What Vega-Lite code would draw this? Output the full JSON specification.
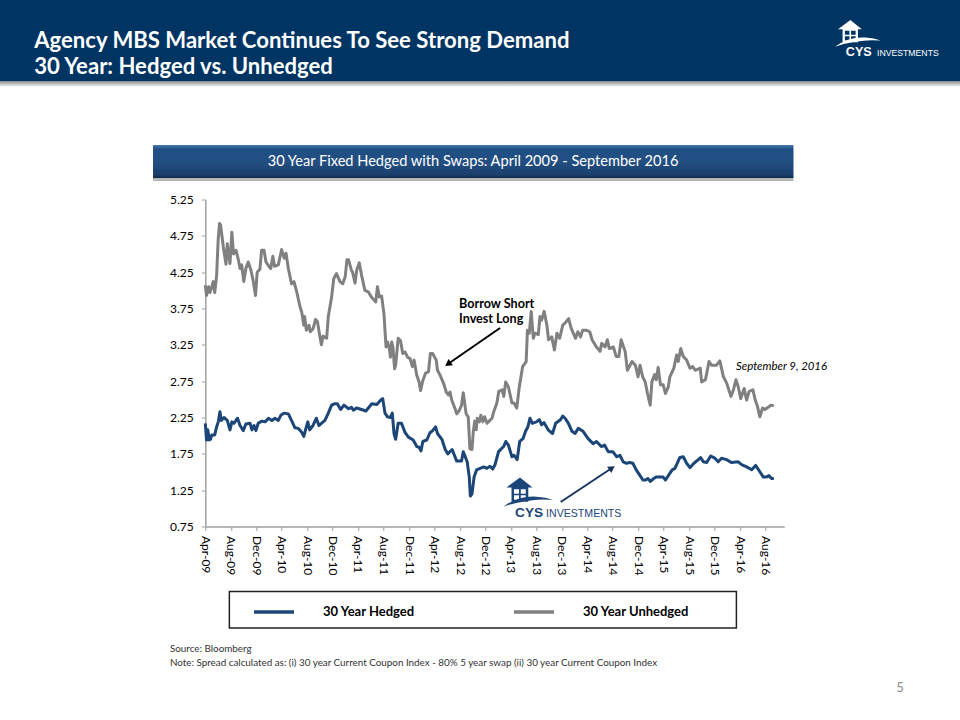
{"$schema":"https://vega.github.io/schema/vega-lite/v6.json","width":579,"height":327,"autosize":"none","padding":{"left":205.3,"top":199.5,"right":175.7,"bottom":193.5},"background":"white","config":{"view":{"stroke":null},"font":"Lato"},"layer":[
{"data":{"name":"spread","values":[
{"d":"2009-04-01","s":"30 Year Unhedged","v":4.07},{"d":"2009-04-07","s":"30 Year Unhedged","v":3.93},{"d":"2009-04-17","s":"30 Year Unhedged","v":4.05},{"d":"2009-04-23","s":"30 Year Unhedged","v":3.97},{"d":"2009-05-02","s":"30 Year Unhedged","v":4.05},{"d":"2009-05-09","s":"30 Year Unhedged","v":4.12},{"d":"2009-05-16","s":"30 Year Unhedged","v":3.97},{"d":"2009-05-25","s":"30 Year Unhedged","v":4.2},{"d":"2009-06-02","s":"30 Year Unhedged","v":4.72},{"d":"2009-06-08","s":"30 Year Unhedged","v":4.92},{"d":"2009-06-13","s":"30 Year Unhedged","v":4.9},{"d":"2009-06-26","s":"30 Year Unhedged","v":4.6},{"d":"2009-07-09","s":"30 Year Unhedged","v":4.36},{"d":"2009-07-15","s":"30 Year Unhedged","v":4.64},{"d":"2009-07-28","s":"30 Year Unhedged","v":4.37},{"d":"2009-08-06","s":"30 Year Unhedged","v":4.8},{"d":"2009-08-14","s":"30 Year Unhedged","v":4.5},{"d":"2009-08-26","s":"30 Year Unhedged","v":4.55},{"d":"2009-09-06","s":"30 Year Unhedged","v":4.42},{"d":"2009-09-14","s":"30 Year Unhedged","v":4.3},{"d":"2009-09-22","s":"30 Year Unhedged","v":4.35},{"d":"2009-10-02","s":"30 Year Unhedged","v":4.12},{"d":"2009-10-12","s":"30 Year Unhedged","v":4.3},{"d":"2009-10-23","s":"30 Year Unhedged","v":4.39},{"d":"2009-11-05","s":"30 Year Unhedged","v":4.28},{"d":"2009-11-16","s":"30 Year Unhedged","v":4.13},{"d":"2009-11-27","s":"30 Year Unhedged","v":3.93},{"d":"2009-12-05","s":"30 Year Unhedged","v":4.25},{"d":"2009-12-18","s":"30 Year Unhedged","v":4.29},{"d":"2009-12-26","s":"30 Year Unhedged","v":4.55},{"d":"2010-01-07","s":"30 Year Unhedged","v":4.55},{"d":"2010-01-16","s":"30 Year Unhedged","v":4.39},{"d":"2010-02-02","s":"30 Year Unhedged","v":4.32},{"d":"2010-02-08","s":"30 Year Unhedged","v":4.3},{"d":"2010-02-18","s":"30 Year Unhedged","v":4.47},{"d":"2010-02-26","s":"30 Year Unhedged","v":4.33},{"d":"2010-03-16","s":"30 Year Unhedged","v":4.35},{"d":"2010-04-01","s":"30 Year Unhedged","v":4.56},{"d":"2010-04-14","s":"30 Year Unhedged","v":4.44},{"d":"2010-04-22","s":"30 Year Unhedged","v":4.51},{"d":"2010-05-03","s":"30 Year Unhedged","v":4.3},{"d":"2010-05-18","s":"30 Year Unhedged","v":4.09},{"d":"2010-05-30","s":"30 Year Unhedged","v":4.12},{"d":"2010-06-12","s":"30 Year Unhedged","v":3.98},{"d":"2010-06-28","s":"30 Year Unhedged","v":3.77},{"d":"2010-07-06","s":"30 Year Unhedged","v":3.7},{"d":"2010-07-16","s":"30 Year Unhedged","v":3.52},{"d":"2010-07-20","s":"30 Year Unhedged","v":3.64},{"d":"2010-07-28","s":"30 Year Unhedged","v":3.45},{"d":"2010-08-10","s":"30 Year Unhedged","v":3.52},{"d":"2010-08-16","s":"30 Year Unhedged","v":3.43},{"d":"2010-08-29","s":"30 Year Unhedged","v":3.47},{"d":"2010-09-10","s":"30 Year Unhedged","v":3.6},{"d":"2010-09-19","s":"30 Year Unhedged","v":3.57},{"d":"2010-10-01","s":"30 Year Unhedged","v":3.36},{"d":"2010-10-08","s":"30 Year Unhedged","v":3.25},{"d":"2010-10-16","s":"30 Year Unhedged","v":3.37},{"d":"2010-11-02","s":"30 Year Unhedged","v":3.34},{"d":"2010-11-10","s":"30 Year Unhedged","v":3.64},{"d":"2010-11-26","s":"30 Year Unhedged","v":3.91},{"d":"2010-12-06","s":"30 Year Unhedged","v":4.16},{"d":"2010-12-19","s":"30 Year Unhedged","v":4.23},{"d":"2011-01-05","s":"30 Year Unhedged","v":4.12},{"d":"2011-01-18","s":"30 Year Unhedged","v":4.09},{"d":"2011-01-30","s":"30 Year Unhedged","v":4.19},{"d":"2011-02-07","s":"30 Year Unhedged","v":4.42},{"d":"2011-02-15","s":"30 Year Unhedged","v":4.42},{"d":"2011-02-28","s":"30 Year Unhedged","v":4.28},{"d":"2011-03-06","s":"30 Year Unhedged","v":4.25},{"d":"2011-03-18","s":"30 Year Unhedged","v":4.1},{"d":"2011-03-26","s":"30 Year Unhedged","v":4.28},{"d":"2011-04-07","s":"30 Year Unhedged","v":4.38},{"d":"2011-04-18","s":"30 Year Unhedged","v":4.21},{"d":"2011-05-04","s":"30 Year Unhedged","v":4.0},{"d":"2011-05-20","s":"30 Year Unhedged","v":3.98},{"d":"2011-06-06","s":"30 Year Unhedged","v":3.9},{"d":"2011-06-25","s":"30 Year Unhedged","v":3.84},{"d":"2011-07-03","s":"30 Year Unhedged","v":4.05},{"d":"2011-07-12","s":"30 Year Unhedged","v":3.91},{"d":"2011-07-23","s":"30 Year Unhedged","v":3.92},{"d":"2011-08-03","s":"30 Year Unhedged","v":3.68},{"d":"2011-08-13","s":"30 Year Unhedged","v":3.22},{"d":"2011-08-20","s":"30 Year Unhedged","v":3.29},{"d":"2011-08-29","s":"30 Year Unhedged","v":3.2},{"d":"2011-09-03","s":"30 Year Unhedged","v":3.08},{"d":"2011-09-09","s":"30 Year Unhedged","v":3.29},{"d":"2011-09-15","s":"30 Year Unhedged","v":3.22},{"d":"2011-09-23","s":"30 Year Unhedged","v":2.92},{"d":"2011-09-28","s":"30 Year Unhedged","v":2.97},{"d":"2011-10-10","s":"30 Year Unhedged","v":3.34},{"d":"2011-10-21","s":"30 Year Unhedged","v":3.31},{"d":"2011-11-01","s":"30 Year Unhedged","v":3.13},{"d":"2011-11-12","s":"30 Year Unhedged","v":3.15},{"d":"2011-11-24","s":"30 Year Unhedged","v":3.08},{"d":"2011-12-06","s":"30 Year Unhedged","v":3.06},{"d":"2011-12-17","s":"30 Year Unhedged","v":2.95},{"d":"2011-12-25","s":"30 Year Unhedged","v":3.04},{"d":"2012-01-07","s":"30 Year Unhedged","v":2.83},{"d":"2012-01-18","s":"30 Year Unhedged","v":2.74},{"d":"2012-01-25","s":"30 Year Unhedged","v":2.62},{"d":"2012-02-05","s":"30 Year Unhedged","v":2.76},{"d":"2012-02-18","s":"30 Year Unhedged","v":2.86},{"d":"2012-03-03","s":"30 Year Unhedged","v":2.88},{"d":"2012-03-12","s":"30 Year Unhedged","v":3.13},{"d":"2012-03-23","s":"30 Year Unhedged","v":3.13},{"d":"2012-04-09","s":"30 Year Unhedged","v":3.04},{"d":"2012-04-15","s":"30 Year Unhedged","v":2.9},{"d":"2012-04-28","s":"30 Year Unhedged","v":2.83},{"d":"2012-05-14","s":"30 Year Unhedged","v":2.72},{"d":"2012-05-27","s":"30 Year Unhedged","v":2.6},{"d":"2012-06-06","s":"30 Year Unhedged","v":2.56},{"d":"2012-06-14","s":"30 Year Unhedged","v":2.6},{"d":"2012-06-22","s":"30 Year Unhedged","v":2.49},{"d":"2012-07-08","s":"30 Year Unhedged","v":2.37},{"d":"2012-07-16","s":"30 Year Unhedged","v":2.3},{"d":"2012-07-29","s":"30 Year Unhedged","v":2.35},{"d":"2012-08-08","s":"30 Year Unhedged","v":2.42},{"d":"2012-08-16","s":"30 Year Unhedged","v":2.59},{"d":"2012-08-30","s":"30 Year Unhedged","v":2.3},{"d":"2012-09-09","s":"30 Year Unhedged","v":2.26},{"d":"2012-09-17","s":"30 Year Unhedged","v":1.82},{"d":"2012-09-27","s":"30 Year Unhedged","v":1.81},{"d":"2012-10-03","s":"30 Year Unhedged","v":2.05},{"d":"2012-10-10","s":"30 Year Unhedged","v":2.2},{"d":"2012-10-17","s":"30 Year Unhedged","v":2.08},{"d":"2012-10-22","s":"30 Year Unhedged","v":2.24},{"d":"2012-11-01","s":"30 Year Unhedged","v":2.19},{"d":"2012-11-08","s":"30 Year Unhedged","v":2.28},{"d":"2012-11-18","s":"30 Year Unhedged","v":2.19},{"d":"2012-11-26","s":"30 Year Unhedged","v":2.26},{"d":"2012-12-08","s":"30 Year Unhedged","v":2.17},{"d":"2012-12-21","s":"30 Year Unhedged","v":2.21},{"d":"2013-01-01","s":"30 Year Unhedged","v":2.24},{"d":"2013-01-09","s":"30 Year Unhedged","v":2.33},{"d":"2013-01-24","s":"30 Year Unhedged","v":2.45},{"d":"2013-02-02","s":"30 Year Unhedged","v":2.61},{"d":"2013-02-18","s":"30 Year Unhedged","v":2.63},{"d":"2013-02-26","s":"30 Year Unhedged","v":2.54},{"d":"2013-03-07","s":"30 Year Unhedged","v":2.74},{"d":"2013-03-20","s":"30 Year Unhedged","v":2.67},{"d":"2013-04-06","s":"30 Year Unhedged","v":2.45},{"d":"2013-04-16","s":"30 Year Unhedged","v":2.45},{"d":"2013-04-29","s":"30 Year Unhedged","v":2.38},{"d":"2013-05-11","s":"30 Year Unhedged","v":2.67},{"d":"2013-05-27","s":"30 Year Unhedged","v":2.95},{"d":"2013-06-13","s":"30 Year Unhedged","v":3.02},{"d":"2013-06-19","s":"30 Year Unhedged","v":3.45},{"d":"2013-06-28","s":"30 Year Unhedged","v":3.41},{"d":"2013-07-07","s":"30 Year Unhedged","v":3.71},{"d":"2013-07-17","s":"30 Year Unhedged","v":3.34},{"d":"2013-07-25","s":"30 Year Unhedged","v":3.41},{"d":"2013-08-10","s":"30 Year Unhedged","v":3.39},{"d":"2013-08-18","s":"30 Year Unhedged","v":3.64},{"d":"2013-08-26","s":"30 Year Unhedged","v":3.59},{"d":"2013-09-07","s":"30 Year Unhedged","v":3.71},{"d":"2013-09-20","s":"30 Year Unhedged","v":3.52},{"d":"2013-09-28","s":"30 Year Unhedged","v":3.32},{"d":"2013-10-13","s":"30 Year Unhedged","v":3.36},{"d":"2013-10-26","s":"30 Year Unhedged","v":3.18},{"d":"2013-11-07","s":"30 Year Unhedged","v":3.41},{"d":"2013-11-20","s":"30 Year Unhedged","v":3.34},{"d":"2013-12-05","s":"30 Year Unhedged","v":3.52},{"d":"2013-12-16","s":"30 Year Unhedged","v":3.55},{"d":"2014-01-02","s":"30 Year Unhedged","v":3.61},{"d":"2014-01-14","s":"30 Year Unhedged","v":3.48},{"d":"2014-02-04","s":"30 Year Unhedged","v":3.34},{"d":"2014-02-15","s":"30 Year Unhedged","v":3.43},{"d":"2014-02-28","s":"30 Year Unhedged","v":3.36},{"d":"2014-03-10","s":"30 Year Unhedged","v":3.45},{"d":"2014-03-29","s":"30 Year Unhedged","v":3.45},{"d":"2014-04-13","s":"30 Year Unhedged","v":3.43},{"d":"2014-04-24","s":"30 Year Unhedged","v":3.32},{"d":"2014-05-15","s":"30 Year Unhedged","v":3.22},{"d":"2014-06-01","s":"30 Year Unhedged","v":3.16},{"d":"2014-06-09","s":"30 Year Unhedged","v":3.27},{"d":"2014-06-25","s":"30 Year Unhedged","v":3.22},{"d":"2014-07-06","s":"30 Year Unhedged","v":3.32},{"d":"2014-07-15","s":"30 Year Unhedged","v":3.2},{"d":"2014-08-04","s":"30 Year Unhedged","v":3.22},{"d":"2014-08-17","s":"30 Year Unhedged","v":3.09},{"d":"2014-08-30","s":"30 Year Unhedged","v":3.09},{"d":"2014-09-10","s":"30 Year Unhedged","v":3.32},{"d":"2014-09-29","s":"30 Year Unhedged","v":3.16},{"d":"2014-10-10","s":"30 Year Unhedged","v":2.9},{"d":"2014-11-01","s":"30 Year Unhedged","v":3.02},{"d":"2014-11-17","s":"30 Year Unhedged","v":2.97},{"d":"2014-11-30","s":"30 Year Unhedged","v":2.81},{"d":"2014-12-09","s":"30 Year Unhedged","v":2.97},{"d":"2014-12-22","s":"30 Year Unhedged","v":2.81},{"d":"2015-01-03","s":"30 Year Unhedged","v":2.74},{"d":"2015-01-14","s":"30 Year Unhedged","v":2.58},{"d":"2015-01-27","s":"30 Year Unhedged","v":2.42},{"d":"2015-02-04","s":"30 Year Unhedged","v":2.74},{"d":"2015-02-17","s":"30 Year Unhedged","v":2.84},{"d":"2015-02-25","s":"30 Year Unhedged","v":2.77},{"d":"2015-03-06","s":"30 Year Unhedged","v":2.94},{"d":"2015-03-17","s":"30 Year Unhedged","v":2.7},{"d":"2015-03-30","s":"30 Year Unhedged","v":2.7},{"d":"2015-04-10","s":"30 Year Unhedged","v":2.58},{"d":"2015-04-23","s":"30 Year Unhedged","v":2.67},{"d":"2015-05-01","s":"30 Year Unhedged","v":2.81},{"d":"2015-05-20","s":"30 Year Unhedged","v":2.93},{"d":"2015-06-02","s":"30 Year Unhedged","v":3.11},{"d":"2015-06-10","s":"30 Year Unhedged","v":3.02},{"d":"2015-06-22","s":"30 Year Unhedged","v":3.2},{"d":"2015-07-04","s":"30 Year Unhedged","v":3.09},{"d":"2015-07-20","s":"30 Year Unhedged","v":3.04},{"d":"2015-08-05","s":"30 Year Unhedged","v":2.93},{"d":"2015-08-18","s":"30 Year Unhedged","v":2.95},{"d":"2015-08-30","s":"30 Year Unhedged","v":2.9},{"d":"2015-09-23","s":"30 Year Unhedged","v":2.93},{"d":"2015-09-30","s":"30 Year Unhedged","v":2.74},{"d":"2015-10-18","s":"30 Year Unhedged","v":2.77},{"d":"2015-11-04","s":"30 Year Unhedged","v":3.02},{"d":"2015-11-16","s":"30 Year Unhedged","v":2.97},{"d":"2015-12-10","s":"30 Year Unhedged","v":2.97},{"d":"2015-12-26","s":"30 Year Unhedged","v":3.03},{"d":"2016-01-12","s":"30 Year Unhedged","v":2.81},{"d":"2016-01-28","s":"30 Year Unhedged","v":2.72},{"d":"2016-02-17","s":"30 Year Unhedged","v":2.54},{"d":"2016-02-29","s":"30 Year Unhedged","v":2.63},{"d":"2016-03-12","s":"30 Year Unhedged","v":2.77},{"d":"2016-03-23","s":"30 Year Unhedged","v":2.67},{"d":"2016-04-04","s":"30 Year Unhedged","v":2.51},{"d":"2016-04-20","s":"30 Year Unhedged","v":2.65},{"d":"2016-05-02","s":"30 Year Unhedged","v":2.49},{"d":"2016-05-14","s":"30 Year Unhedged","v":2.61},{"d":"2016-06-01","s":"30 Year Unhedged","v":2.63},{"d":"2016-06-12","s":"30 Year Unhedged","v":2.49},{"d":"2016-06-23","s":"30 Year Unhedged","v":2.4},{"d":"2016-07-04","s":"30 Year Unhedged","v":2.26},{"d":"2016-07-17","s":"30 Year Unhedged","v":2.38},{"d":"2016-07-28","s":"30 Year Unhedged","v":2.36},{"d":"2016-08-13","s":"30 Year Unhedged","v":2.39},{"d":"2016-08-26","s":"30 Year Unhedged","v":2.42},{"d":"2016-09-09","s":"30 Year Unhedged","v":2.41},
{"d":"2009-04-01","s":"30 Year Hedged","v":2.17},{"d":"2009-04-07","s":"30 Year Hedged","v":1.94},{"d":"2009-04-13","s":"30 Year Hedged","v":2.08},{"d":"2009-04-20","s":"30 Year Hedged","v":1.94},{"d":"2009-04-26","s":"30 Year Hedged","v":1.95},{"d":"2009-05-02","s":"30 Year Hedged","v":2.01},{"d":"2009-05-16","s":"30 Year Hedged","v":2.01},{"d":"2009-05-25","s":"30 Year Hedged","v":2.12},{"d":"2009-06-02","s":"30 Year Hedged","v":2.19},{"d":"2009-06-10","s":"30 Year Hedged","v":2.33},{"d":"2009-06-16","s":"30 Year Hedged","v":2.21},{"d":"2009-06-29","s":"30 Year Hedged","v":2.25},{"d":"2009-07-15","s":"30 Year Hedged","v":2.21},{"d":"2009-07-28","s":"30 Year Hedged","v":2.08},{"d":"2009-08-06","s":"30 Year Hedged","v":2.19},{"d":"2009-08-16","s":"30 Year Hedged","v":2.17},{"d":"2009-09-02","s":"30 Year Hedged","v":2.24},{"d":"2009-09-14","s":"30 Year Hedged","v":2.14},{"d":"2009-09-30","s":"30 Year Hedged","v":2.07},{"d":"2009-10-12","s":"30 Year Hedged","v":2.16},{"d":"2009-11-01","s":"30 Year Hedged","v":2.17},{"d":"2009-11-10","s":"30 Year Hedged","v":2.08},{"d":"2009-11-20","s":"30 Year Hedged","v":2.14},{"d":"2009-11-29","s":"30 Year Hedged","v":2.07},{"d":"2009-12-10","s":"30 Year Hedged","v":2.17},{"d":"2009-12-26","s":"30 Year Hedged","v":2.2},{"d":"2010-01-12","s":"30 Year Hedged","v":2.19},{"d":"2010-01-28","s":"30 Year Hedged","v":2.24},{"d":"2010-02-13","s":"30 Year Hedged","v":2.21},{"d":"2010-02-28","s":"30 Year Hedged","v":2.24},{"d":"2010-03-16","s":"30 Year Hedged","v":2.21},{"d":"2010-03-28","s":"30 Year Hedged","v":2.28},{"d":"2010-04-12","s":"30 Year Hedged","v":2.31},{"d":"2010-05-03","s":"30 Year Hedged","v":2.3},{"d":"2010-05-18","s":"30 Year Hedged","v":2.21},{"d":"2010-06-03","s":"30 Year Hedged","v":2.11},{"d":"2010-06-20","s":"30 Year Hedged","v":2.1},{"d":"2010-07-05","s":"30 Year Hedged","v":2.05},{"d":"2010-07-16","s":"30 Year Hedged","v":1.99},{"d":"2010-07-28","s":"30 Year Hedged","v":2.12},{"d":"2010-08-04","s":"30 Year Hedged","v":2.19},{"d":"2010-08-13","s":"30 Year Hedged","v":2.08},{"d":"2010-08-29","s":"30 Year Hedged","v":2.14},{"d":"2010-09-14","s":"30 Year Hedged","v":2.24},{"d":"2010-09-26","s":"30 Year Hedged","v":2.14},{"d":"2010-10-08","s":"30 Year Hedged","v":2.17},{"d":"2010-10-25","s":"30 Year Hedged","v":2.21},{"d":"2010-11-10","s":"30 Year Hedged","v":2.31},{"d":"2010-11-26","s":"30 Year Hedged","v":2.42},{"d":"2010-12-12","s":"30 Year Hedged","v":2.44},{"d":"2010-12-23","s":"30 Year Hedged","v":2.44},{"d":"2011-01-08","s":"30 Year Hedged","v":2.36},{"d":"2011-01-24","s":"30 Year Hedged","v":2.42},{"d":"2011-02-15","s":"30 Year Hedged","v":2.37},{"d":"2011-03-01","s":"30 Year Hedged","v":2.39},{"d":"2011-03-10","s":"30 Year Hedged","v":2.35},{"d":"2011-03-25","s":"30 Year Hedged","v":2.38},{"d":"2011-04-18","s":"30 Year Hedged","v":2.36},{"d":"2011-05-09","s":"30 Year Hedged","v":2.34},{"d":"2011-06-06","s":"30 Year Hedged","v":2.44},{"d":"2011-06-30","s":"30 Year Hedged","v":2.43},{"d":"2011-07-19","s":"30 Year Hedged","v":2.49},{"d":"2011-07-28","s":"30 Year Hedged","v":2.51},{"d":"2011-08-08","s":"30 Year Hedged","v":2.31},{"d":"2011-08-20","s":"30 Year Hedged","v":2.26},{"d":"2011-09-03","s":"30 Year Hedged","v":2.25},{"d":"2011-09-12","s":"30 Year Hedged","v":2.31},{"d":"2011-09-20","s":"30 Year Hedged","v":2.03},{"d":"2011-09-28","s":"30 Year Hedged","v":1.95},{"d":"2011-10-10","s":"30 Year Hedged","v":2.17},{"d":"2011-10-26","s":"30 Year Hedged","v":2.17},{"d":"2011-11-11","s":"30 Year Hedged","v":2.05},{"d":"2011-11-28","s":"30 Year Hedged","v":1.98},{"d":"2011-12-21","s":"30 Year Hedged","v":1.94},{"d":"2012-01-07","s":"30 Year Hedged","v":1.85},{"d":"2012-01-18","s":"30 Year Hedged","v":1.84},{"d":"2012-01-27","s":"30 Year Hedged","v":1.79},{"d":"2012-02-05","s":"30 Year Hedged","v":1.92},{"d":"2012-02-24","s":"30 Year Hedged","v":1.94},{"d":"2012-03-10","s":"30 Year Hedged","v":2.04},{"d":"2012-03-23","s":"30 Year Hedged","v":2.07},{"d":"2012-04-06","s":"30 Year Hedged","v":2.12},{"d":"2012-04-15","s":"30 Year Hedged","v":2.03},{"d":"2012-05-06","s":"30 Year Hedged","v":1.95},{"d":"2012-05-22","s":"30 Year Hedged","v":1.81},{"d":"2012-06-03","s":"30 Year Hedged","v":1.75},{"d":"2012-06-24","s":"30 Year Hedged","v":1.81},{"d":"2012-07-16","s":"30 Year Hedged","v":1.65},{"d":"2012-08-08","s":"30 Year Hedged","v":1.65},{"d":"2012-08-16","s":"30 Year Hedged","v":1.78},{"d":"2012-09-04","s":"30 Year Hedged","v":1.64},{"d":"2012-09-14","s":"30 Year Hedged","v":1.43},{"d":"2012-09-19","s":"30 Year Hedged","v":1.17},{"d":"2012-09-27","s":"30 Year Hedged","v":1.2},{"d":"2012-10-07","s":"30 Year Hedged","v":1.43},{"d":"2012-10-19","s":"30 Year Hedged","v":1.53},{"d":"2012-11-05","s":"30 Year Hedged","v":1.55},{"d":"2012-11-22","s":"30 Year Hedged","v":1.57},{"d":"2012-12-07","s":"30 Year Hedged","v":1.55},{"d":"2012-12-22","s":"30 Year Hedged","v":1.58},{"d":"2013-01-04","s":"30 Year Hedged","v":1.54},{"d":"2013-01-15","s":"30 Year Hedged","v":1.6},{"d":"2013-02-01","s":"30 Year Hedged","v":1.78},{"d":"2013-02-25","s":"30 Year Hedged","v":1.85},{"d":"2013-03-08","s":"30 Year Hedged","v":1.92},{"d":"2013-03-20","s":"30 Year Hedged","v":1.87},{"d":"2013-04-06","s":"30 Year Hedged","v":1.71},{"d":"2013-04-16","s":"30 Year Hedged","v":1.73},{"d":"2013-05-01","s":"30 Year Hedged","v":1.67},{"d":"2013-05-13","s":"30 Year Hedged","v":1.92},{"d":"2013-05-29","s":"30 Year Hedged","v":1.96},{"d":"2013-06-10","s":"30 Year Hedged","v":2.06},{"d":"2013-06-21","s":"30 Year Hedged","v":2.12},{"d":"2013-07-01","s":"30 Year Hedged","v":2.24},{"d":"2013-07-12","s":"30 Year Hedged","v":2.17},{"d":"2013-08-01","s":"30 Year Hedged","v":2.19},{"d":"2013-08-15","s":"30 Year Hedged","v":2.22},{"d":"2013-08-26","s":"30 Year Hedged","v":2.15},{"d":"2013-09-06","s":"30 Year Hedged","v":2.18},{"d":"2013-09-26","s":"30 Year Hedged","v":2.08},{"d":"2013-10-17","s":"30 Year Hedged","v":2.03},{"d":"2013-11-01","s":"30 Year Hedged","v":2.17},{"d":"2013-11-24","s":"30 Year Hedged","v":2.22},{"d":"2013-12-05","s":"30 Year Hedged","v":2.27},{"d":"2013-12-16","s":"30 Year Hedged","v":2.24},{"d":"2014-01-01","s":"30 Year Hedged","v":2.17},{"d":"2014-01-18","s":"30 Year Hedged","v":2.06},{"d":"2014-02-02","s":"30 Year Hedged","v":2.03},{"d":"2014-02-17","s":"30 Year Hedged","v":2.1},{"d":"2014-03-12","s":"30 Year Hedged","v":2.06},{"d":"2014-04-05","s":"30 Year Hedged","v":1.96},{"d":"2014-04-29","s":"30 Year Hedged","v":1.89},{"d":"2014-05-15","s":"30 Year Hedged","v":1.92},{"d":"2014-06-07","s":"30 Year Hedged","v":1.85},{"d":"2014-06-23","s":"30 Year Hedged","v":1.87},{"d":"2014-07-10","s":"30 Year Hedged","v":1.78},{"d":"2014-08-01","s":"30 Year Hedged","v":1.78},{"d":"2014-08-20","s":"30 Year Hedged","v":1.71},{"d":"2014-09-04","s":"30 Year Hedged","v":1.73},{"d":"2014-09-20","s":"30 Year Hedged","v":1.64},{"d":"2014-10-05","s":"30 Year Hedged","v":1.62},{"d":"2014-10-21","s":"30 Year Hedged","v":1.63},{"d":"2014-11-05","s":"30 Year Hedged","v":1.62},{"d":"2014-11-21","s":"30 Year Hedged","v":1.53},{"d":"2014-12-07","s":"30 Year Hedged","v":1.46},{"d":"2014-12-23","s":"30 Year Hedged","v":1.39},{"d":"2015-01-05","s":"30 Year Hedged","v":1.39},{"d":"2015-01-16","s":"30 Year Hedged","v":1.41},{"d":"2015-01-28","s":"30 Year Hedged","v":1.37},{"d":"2015-02-12","s":"30 Year Hedged","v":1.41},{"d":"2015-02-24","s":"30 Year Hedged","v":1.43},{"d":"2015-03-12","s":"30 Year Hedged","v":1.43},{"d":"2015-03-30","s":"30 Year Hedged","v":1.43},{"d":"2015-04-10","s":"30 Year Hedged","v":1.39},{"d":"2015-04-26","s":"30 Year Hedged","v":1.46},{"d":"2015-05-12","s":"30 Year Hedged","v":1.53},{"d":"2015-05-25","s":"30 Year Hedged","v":1.55},{"d":"2015-06-05","s":"30 Year Hedged","v":1.62},{"d":"2015-06-18","s":"30 Year Hedged","v":1.7},{"d":"2015-07-04","s":"30 Year Hedged","v":1.71},{"d":"2015-07-20","s":"30 Year Hedged","v":1.62},{"d":"2015-08-05","s":"30 Year Hedged","v":1.56},{"d":"2015-08-24","s":"30 Year Hedged","v":1.62},{"d":"2015-09-14","s":"30 Year Hedged","v":1.67},{"d":"2015-09-25","s":"30 Year Hedged","v":1.7},{"d":"2015-10-08","s":"30 Year Hedged","v":1.64},{"d":"2015-10-24","s":"30 Year Hedged","v":1.63},{"d":"2015-11-12","s":"30 Year Hedged","v":1.72},{"d":"2015-12-02","s":"30 Year Hedged","v":1.69},{"d":"2015-12-18","s":"30 Year Hedged","v":1.64},{"d":"2016-01-03","s":"30 Year Hedged","v":1.69},{"d":"2016-01-27","s":"30 Year Hedged","v":1.67},{"d":"2016-02-19","s":"30 Year Hedged","v":1.63},{"d":"2016-03-23","s":"30 Year Hedged","v":1.64},{"d":"2016-04-08","s":"30 Year Hedged","v":1.6},{"d":"2016-05-02","s":"30 Year Hedged","v":1.57},{"d":"2016-05-26","s":"30 Year Hedged","v":1.53},{"d":"2016-06-14","s":"30 Year Hedged","v":1.59},{"d":"2016-07-05","s":"30 Year Hedged","v":1.5},{"d":"2016-07-21","s":"30 Year Hedged","v":1.43},{"d":"2016-08-05","s":"30 Year Hedged","v":1.43},{"d":"2016-08-16","s":"30 Year Hedged","v":1.45},{"d":"2016-08-29","s":"30 Year Hedged","v":1.41},{"d":"2016-09-09","s":"30 Year Hedged","v":1.41}
]},"mark":{"type":"line","strokeWidth":3,"strokeJoin":"round"},"encoding":{"x":{"field":"d","type":"temporal","scale":{"domain":[{"year":2009,"month":4,"date":1},{"year":2016,"month":10,"date":29}]},"axis":{"title":null,"format":"%b-%y","labelAngle":90,"labelFontSize":12,"labelColor":"black","labelPadding":5,"labelOverlap":false,"labelFlush":false,"grid":false,"domainColor":"#a0a0a0","domainWidth":1.5,"tickColor":"#a0a0a0","tickSize":4,"tickWidth":1,"tickCount":30,"values":[{"year":2009,"month":4,"date":1},{"year":2009,"month":8,"date":1},{"year":2009,"month":12,"date":1},{"year":2010,"month":4,"date":1},{"year":2010,"month":8,"date":1},{"year":2010,"month":12,"date":1},{"year":2011,"month":4,"date":1},{"year":2011,"month":8,"date":1},{"year":2011,"month":12,"date":1},{"year":2012,"month":4,"date":1},{"year":2012,"month":8,"date":1},{"year":2012,"month":12,"date":1},{"year":2013,"month":4,"date":1},{"year":2013,"month":8,"date":1},{"year":2013,"month":12,"date":1},{"year":2014,"month":4,"date":1},{"year":2014,"month":8,"date":1},{"year":2014,"month":12,"date":1},{"year":2015,"month":4,"date":1},{"year":2015,"month":8,"date":1},{"year":2015,"month":12,"date":1},{"year":2016,"month":4,"date":1},{"year":2016,"month":8,"date":1}]}},"y":{"field":"v","type":"quantitative","scale":{"domain":[0.75,5.25],"nice":false},"axis":{"title":null,"tickCount":30,"values":[0.75,1.25,1.75,2.25,2.75,3.25,3.75,4.25,4.75,5.25],"format":".2f","labelFontSize":12,"labelColor":"black","labelPadding":8,"labelOverlap":false,"grid":false,"domainColor":"#a0a0a0","domainWidth":1.5,"tickColor":"#a0a0a0","tickSize":4,"tickWidth":1}},"color":{"field":"s","type":"nominal","scale":{"domain":["30 Year Hedged","30 Year Unhedged"],"range":["#1b4677","#808080"]},"legend":{"title":null,"orient":"none","legendX":46.7,"legendY":390.5,"direction":"horizontal","columns":2,"symbolType":"stroke","symbolSize":1600,"symbolStrokeWidth":3.5,"labelFontSize":13,"labelFontWeight":"bold","labelColor":"black","labelOffset":27,"columnPadding":92,"padding":0}}}},
{"data":{"values":[{}]},"mark":{"type":"rect","fill":{"gradient":"linear","x1":0,"y1":0,"x2":0,"y2":1,"stops":[{"offset":0,"color":"#8a8a8a"},{"offset":1,"color":"#ffffff"}]}},"encoding":{"x":{"datum":{"year":2006,"month":7,"date":24},"type":"temporal","scale":{"domain":[{"year":2009,"month":4,"date":1},{"year":2016,"month":10,"date":29}]}},"x2":{"datum":{"year":2019,"month":2,"date":16}},"y":{"datum":6.88,"type":"quantitative","scale":{"domain":[0.75,5.25],"nice":false}},"y2":{"datum":6.797}}},
{"data":{"values":[{}]},"mark":{"type":"rect","fill":"#003462"},"encoding":{"x":{"datum":{"year":2006,"month":7,"date":24},"type":"temporal","scale":{"domain":[{"year":2009,"month":4,"date":1},{"year":2016,"month":10,"date":29}]}},"x2":{"datum":{"year":2019,"month":2,"date":16}},"y":{"datum":7.995,"type":"quantitative","scale":{"domain":[0.75,5.25],"nice":false}},"y2":{"datum":6.88}}},
{"data":{"values":[{}]},"mark":{"type":"text","text":["Agency MBS Market Continues To See Strong Demand","30 Year: Hedged vs. Unhedged"],"lineHeight":26,"align":"left","baseline":"alphabetic","fontSize":22.1,"fontWeight":"bold","color":"white"},"encoding":{"x":{"datum":{"year":2007,"month":1,"date":4},"type":"temporal","scale":{"domain":[{"year":2009,"month":4,"date":1},{"year":2016,"month":10,"date":29}]}},"y":{"datum":7.33,"type":"quantitative","scale":{"domain":[0.75,5.25],"nice":false}}}},
{"data":{"values":[{}]},"mark":{"type":"point","shape":"M-0.33,-0.57 L0.17,-0.17 L0,-0.17 L0,0.4 L-0.67,0.4 L-0.67,-0.17 L-0.87,-0.17 Z M-0.57,-0.1 L-0.57,0.08 L-0.37,0.08 L-0.37,-0.1 Z M-0.3,-0.1 L-0.3,0.08 L-0.1,0.08 L-0.1,-0.1 Z M-0.57,0.14 L-0.57,0.32 L-0.37,0.32 L-0.37,0.14 Z M-0.3,0.14 L-0.3,0.32 L-0.1,0.32 L-0.1,0.14 Z M-1,0.6 Q-0.4,0.15 0.33,0.2 Q0.7,0.22 1,0.33 Q0.4,0.28 -0.1,0.38 Q-0.6,0.45 -1,0.6 Z","filled":true,"color":"white","opacity":1,"size":2100},"encoding":{"x":{"datum":{"year":2017,"month":10,"date":16},"type":"temporal","scale":{"domain":[{"year":2009,"month":4,"date":1},{"year":2016,"month":10,"date":29}]}},"y":{"datum":7.541,"type":"quantitative","scale":{"domain":[0.75,5.25],"nice":false}}}},
{"data":{"values":[{}]},"mark":{"type":"text","text":"CYS","align":"left","baseline":"alphabetic","font":"Liberation Sans","fontSize":12.6,"fontWeight":"bold","color":"white"},"encoding":{"x":{"datum":{"year":2017,"month":8,"date":19},"type":"temporal","scale":{"domain":[{"year":2009,"month":4,"date":1},{"year":2016,"month":10,"date":29}]}},"y":{"datum":7.225,"type":"quantitative","scale":{"domain":[0.75,5.25],"nice":false}}}},
{"data":{"values":[{}]},"mark":{"type":"text","text":"INVESTMENTS","align":"left","baseline":"alphabetic","font":"Liberation Sans","fontSize":8.7,"color":"white"},"encoding":{"x":{"datum":{"year":2018,"month":1,"date":15},"type":"temporal","scale":{"domain":[{"year":2009,"month":4,"date":1},{"year":2016,"month":10,"date":29}]}},"y":{"datum":7.225,"type":"quantitative","scale":{"domain":[0.75,5.25],"nice":false}}}},
{"data":{"values":[{}]},"mark":{"type":"rect","fill":"#b5b5b5"},"encoding":{"x":{"datum":{"year":2008,"month":7,"date":25},"type":"temporal","scale":{"domain":[{"year":2009,"month":4,"date":1},{"year":2016,"month":10,"date":29}]}},"x2":{"datum":{"year":2016,"month":12,"date":12}},"y":{"datum":5.546,"type":"quantitative","scale":{"domain":[0.75,5.25],"nice":false}},"y2":{"datum":5.505}}},
{"data":{"values":[{}]},"mark":{"type":"rect","fill":{"gradient":"linear","x1":0,"y1":0,"x2":0,"y2":1,"stops":[{"offset":0,"color":"#4a7cb0"},{"offset":0.12,"color":"#1f4f85"},{"offset":0.5,"color":"#234f82"},{"offset":0.9,"color":"#1a3f6d"},{"offset":1,"color":"#10294a"}]}},"encoding":{"x":{"datum":{"year":2008,"month":7,"date":25},"type":"temporal","scale":{"domain":[{"year":2009,"month":4,"date":1},{"year":2016,"month":10,"date":29}]}},"x2":{"datum":{"year":2016,"month":12,"date":12}},"y":{"datum":6.0,"type":"quantitative","scale":{"domain":[0.75,5.25],"nice":false}},"y2":{"datum":5.546}}},
{"data":{"values":[{}]},"mark":{"type":"text","text":"30 Year Fixed Hedged with Swaps: April 2009 - September 2016","align":"center","baseline":"middle","fontSize":14.6,"color":"white"},"encoding":{"x":{"datum":{"year":2012,"month":10,"date":2},"type":"temporal","scale":{"domain":[{"year":2009,"month":4,"date":1},{"year":2016,"month":10,"date":29}]}},"y":{"datum":5.766,"type":"quantitative","scale":{"domain":[0.75,5.25],"nice":false}}}},
{"data":{"values":[{}]},"mark":{"type":"rect","fill":null,"stroke":"#222222","strokeWidth":1.5},"encoding":{"x":{"datum":{"year":2009,"month":7,"date":25},"type":"temporal","scale":{"domain":[{"year":2009,"month":4,"date":1},{"year":2016,"month":10,"date":29}]}},"x2":{"datum":{"year":2016,"month":3,"date":14}},"y":{"datum":-0.144,"type":"quantitative","scale":{"domain":[0.75,5.25],"nice":false}},"y2":{"datum":-0.647}}},
{"data":{"values":[{}]},"mark":{"type":"text","text":["Source: Bloomberg","Note: Spread calculated as: (i) 30 year Current Coupon Index  - 80% 5 year swap (ii) 30 year Current Coupon Index"],"lineHeight":14,"align":"left","baseline":"alphabetic","fontSize":9.85,"color":"#333333"},"encoding":{"x":{"datum":{"year":2008,"month":10,"date":14},"type":"temporal","scale":{"domain":[{"year":2009,"month":4,"date":1},{"year":2016,"month":10,"date":29}]}},"y":{"datum":-0.977,"type":"quantitative","scale":{"domain":[0.75,5.25],"nice":false}}}},
{"data":{"values":[{}]},"mark":{"type":"text","text":"5","align":"center","baseline":"alphabetic","fontSize":13,"color":"#8c8c8c"},"encoding":{"x":{"datum":{"year":2018,"month":5,"date":5},"type":"temporal","scale":{"domain":[{"year":2009,"month":4,"date":1},{"year":2016,"month":10,"date":29}]}},"y":{"datum":-1.528,"type":"quantitative","scale":{"domain":[0.75,5.25],"nice":false}}}},
{"data":{"values":[{}]},"mark":{"type":"text","text":["Borrow Short","Invest Long"],"lineHeight":15,"align":"left","baseline":"alphabetic","fontSize":12.6,"fontWeight":"bold","color":"black"},"encoding":{"x":{"datum":{"year":2012,"month":7,"date":27},"type":"temporal","scale":{"domain":[{"year":2009,"month":4,"date":1},{"year":2016,"month":10,"date":29}]}},"y":{"datum":3.757,"type":"quantitative","scale":{"domain":[0.75,5.25],"nice":false}}}},
{"data":{"values":[{}]},"mark":{"type":"text","text":"September 9, 2016","align":"left","baseline":"alphabetic","fontSize":11.4,"fontStyle":"italic","color":"black"},"encoding":{"x":{"datum":{"year":2016,"month":3,"date":12},"type":"temporal","scale":{"domain":[{"year":2009,"month":4,"date":1},{"year":2016,"month":10,"date":29}]}},"y":{"datum":2.904,"type":"quantitative","scale":{"domain":[0.75,5.25],"nice":false}}}},
{"data":{"values":[{}]},"mark":{"type":"rule","stroke":"black","strokeWidth":2},"encoding":{"x":{"datum":{"year":2013,"month":2,"date":8},"type":"temporal","scale":{"domain":[{"year":2009,"month":4,"date":1},{"year":2016,"month":10,"date":29}]}},"x2":{"datum":{"year":2012,"month":6,"date":4}},"y":{"datum":3.482,"type":"quantitative","scale":{"domain":[0.75,5.25],"nice":false}},"y2":{"datum":2.986}}},
{"data":{"values":[{}]},"mark":{"type":"point","shape":"triangle-up","filled":true,"color":"black","opacity":1,"size":60,"angle":235.4},"encoding":{"x":{"datum":{"year":2012,"month":6,"date":4},"type":"temporal","scale":{"domain":[{"year":2009,"month":4,"date":1},{"year":2016,"month":10,"date":29}]}},"y":{"datum":2.986,"type":"quantitative","scale":{"domain":[0.75,5.25],"nice":false}}}},
{"data":{"values":[{}]},"mark":{"type":"rule","stroke":"#17365d","strokeWidth":2},"encoding":{"x":{"datum":{"year":2013,"month":11,"date":25},"type":"temporal","scale":{"domain":[{"year":2009,"month":4,"date":1},{"year":2016,"month":10,"date":29}]}},"x2":{"datum":{"year":2014,"month":7,"date":28}},"y":{"datum":1.087,"type":"quantitative","scale":{"domain":[0.75,5.25],"nice":false}},"y2":{"datum":1.555}}},
{"data":{"values":[{}]},"mark":{"type":"point","shape":"triangle-up","filled":true,"color":"#17365d","opacity":1,"size":60,"angle":56.4},"encoding":{"x":{"datum":{"year":2014,"month":7,"date":28},"type":"temporal","scale":{"domain":[{"year":2009,"month":4,"date":1},{"year":2016,"month":10,"date":29}]}},"y":{"datum":1.555,"type":"quantitative","scale":{"domain":[0.75,5.25],"nice":false}}}},
{"data":{"values":[{}]},"mark":{"type":"point","shape":"M-0.33,-0.57 L0.17,-0.17 L0,-0.17 L0,0.4 L-0.67,0.4 L-0.67,-0.17 L-0.87,-0.17 Z M-0.57,-0.1 L-0.57,0.08 L-0.37,0.08 L-0.37,-0.1 Z M-0.3,-0.1 L-0.3,0.08 L-0.1,0.08 L-0.1,-0.1 Z M-0.57,0.14 L-0.57,0.32 L-0.37,0.32 L-0.37,0.14 Z M-0.3,0.14 L-0.3,0.32 L-0.1,0.32 L-0.1,0.14 Z M-1,0.6 Q-0.4,0.15 0.33,0.2 Q0.7,0.22 1,0.33 Q0.4,0.28 -0.1,0.38 Q-0.6,0.45 -1,0.6 Z","filled":true,"color":"#1b4677","opacity":1,"size":2500},"encoding":{"x":{"datum":{"year":2013,"month":6,"date":23},"type":"temporal","scale":{"domain":[{"year":2009,"month":4,"date":1},{"year":2016,"month":10,"date":29}]}},"y":{"datum":1.229,"type":"quantitative","scale":{"domain":[0.75,5.25],"nice":false}}}},
{"data":{"values":[{}]},"mark":{"type":"text","text":"CYS","align":"left","baseline":"alphabetic","font":"Liberation Sans","fontSize":13.6,"fontWeight":"bold","color":"#1b4677"},"encoding":{"x":{"datum":{"year":2013,"month":4,"date":21},"type":"temporal","scale":{"domain":[{"year":2009,"month":4,"date":1},{"year":2016,"month":10,"date":29}]}},"y":{"datum":0.881,"type":"quantitative","scale":{"domain":[0.75,5.25],"nice":false}}}},
{"data":{"values":[{}]},"mark":{"type":"text","text":"INVESTMENTS","align":"left","baseline":"alphabetic","font":"Liberation Sans","fontSize":10.6,"color":"#1b4677"},"encoding":{"x":{"datum":{"year":2013,"month":9,"date":16},"type":"temporal","scale":{"domain":[{"year":2009,"month":4,"date":1},{"year":2016,"month":10,"date":29}]}},"y":{"datum":0.881,"type":"quantitative","scale":{"domain":[0.75,5.25],"nice":false}}}}
]}
